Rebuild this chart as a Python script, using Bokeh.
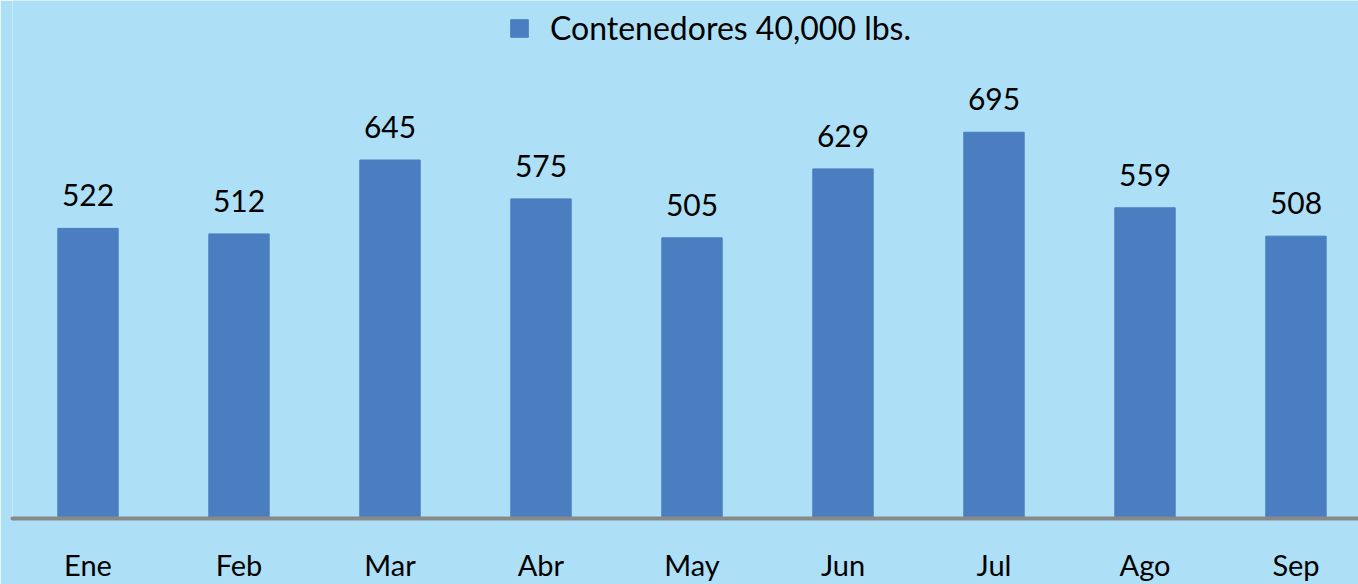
from bokeh.plotting import figure
from bokeh.models import ColumnDataSource, Range1d, Legend, LegendItem, FixedTicker
from bokeh.embed import file_html
from bokeh.resources import INLINE

months = ["Ene", "Feb", "Mar", "Abr", "May", "Jun", "Jul", "Ago", "Sep"]
values = [522, 512, 645, 575, 505, 629, 695, 559, 508]
series_name = "Contenedores 40,000 lbs."

BG = "#ADE0F7"
BAR = "#4A7EC1"
FONT = "Lato"

xs = list(range(len(months)))
src = ColumnDataSource(dict(x=xs, top=values, label=[str(v) for v in values]))

p = figure(width=1358, height=584, output_backend="svg", toolbar_location=None,
           x_range=Range1d(-0.5, 8.414), y_range=Range1d(0, 932),
           min_border_left=12, min_border_right=0, min_border_top=0, min_border_bottom=65)
p.background_fill_color = BG
p.border_fill_color = BG
p.outline_line_color = None
p.grid.visible = False
p.yaxis.visible = False

r = p.vbar(x="x", top="top", bottom=0, width=0.4, source=src, fill_color=BAR, line_color=BAR)
p.text(x="x", y="top", text="label", source=src, text_align="center", text_baseline="alphabetic",
       y_offset=-33, text_font_size="30px", text_color="black", text_font={"value": FONT})

ax = p.xaxis[0]
ax.ticker = FixedTicker(ticks=xs)
ax.major_label_overrides = {i: m for i, m in enumerate(months)}
ax.major_tick_line_color = None
ax.minor_tick_line_color = None
ax.axis_line_color = "#898989"
ax.axis_line_width = 4
ax.axis_line_cap = "round"
ax.major_label_text_font = FONT
ax.major_label_text_font_size = "29px"
ax.major_label_text_color = "black"
ax.major_label_standoff = 22

legend = Legend(items=[LegendItem(label=series_name, renderers=[r])],
                location=(496, 471), orientation="horizontal",
                background_fill_alpha=0, border_line_color=None,
                padding=0, margin=0, glyph_width=22, glyph_height=22,
                label_standoff=20, label_text_font=FONT, label_text_font_size="32px",
                label_text_color="black")
p.add_layout(legend, "center")

open("out.html", "w").write(file_html(p, INLINE))
